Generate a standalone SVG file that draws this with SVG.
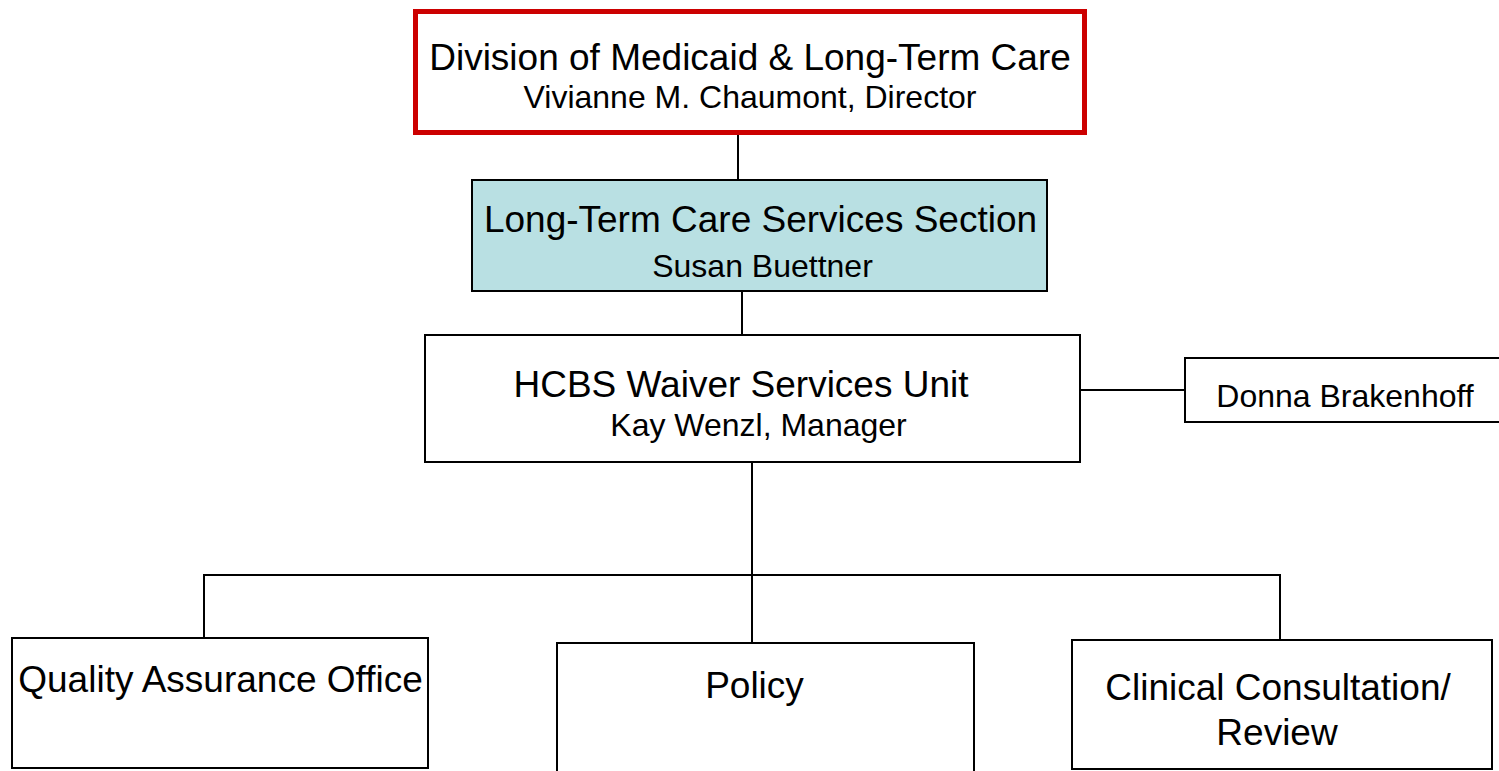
<svg xmlns="http://www.w3.org/2000/svg" width="1499" height="771" viewBox="0 0 1499 771">
<style>
.box{fill:#ffffff;stroke:#000000;stroke-width:2}
.big{font-family:"Liberation Sans",Arial,sans-serif;font-size:37px;fill:#000;text-anchor:middle}
.sm{font-family:"Liberation Sans",Arial,sans-serif;font-size:32px;fill:#000;text-anchor:middle}
.ln{stroke:#000;stroke-width:2;fill:none}
</style>
<rect width="1499" height="771" fill="#ffffff"/>
<g id="connectors">
<line class="ln" x1="738" y1="134" x2="738" y2="179"/>
<line class="ln" x1="742" y1="291" x2="742" y2="335"/>
<line class="ln" x1="1080" y1="390" x2="1186" y2="390"/>
<line class="ln" x1="752" y1="462" x2="752" y2="643"/>
<polyline class="ln" points="204,638 204,575 1280,575 1280,640"/>
</g>
<g id="division">
<rect x="415.5" y="11.5" width="669" height="121" fill="#ffffff" stroke="#cc0000" stroke-width="5"/>
<text class="big" x="750" y="70">Division of Medicaid &amp; Long-Term Care</text>
<text class="sm" x="750" y="108">Vivianne M. Chaumont, Director</text>
</g>
<g id="ltc">
<rect x="472" y="180" width="575" height="111" fill="#b9e0e3" stroke="#000" stroke-width="2"/>
<text class="big" x="760.5" y="232">Long-Term Care Services Section</text>
<text class="sm" x="762.5" y="277">Susan Buettner</text>
</g>
<g id="hcbs">
<rect class="box" x="425" y="335" width="655" height="127"/>
<text class="big" x="741" y="397">HCBS Waiver Services Unit</text>
<text class="sm" x="758.5" y="436">Kay Wenzl, Manager</text>
</g>
<g id="donna">
<rect class="box" x="1185" y="358" width="320" height="64"/>
<text class="sm" x="1345" y="407">Donna Brakenhoff</text>
</g>
<g id="qa">
<rect class="box" x="12" y="638" width="416" height="130"/>
<text class="big" x="220.5" y="692">Quality Assurance Office</text>
</g>
<g id="policy">
<rect class="box" x="557" y="643" width="417" height="135"/>
<text class="big" x="754.5" y="698">Policy</text>
</g>
<g id="clinical">
<rect class="box" x="1072" y="640" width="420" height="129"/>
<text class="big" x="1278" y="700">Clinical Consultation/</text>
<text class="big" x="1277" y="745">Review</text>
</g>
</svg>
